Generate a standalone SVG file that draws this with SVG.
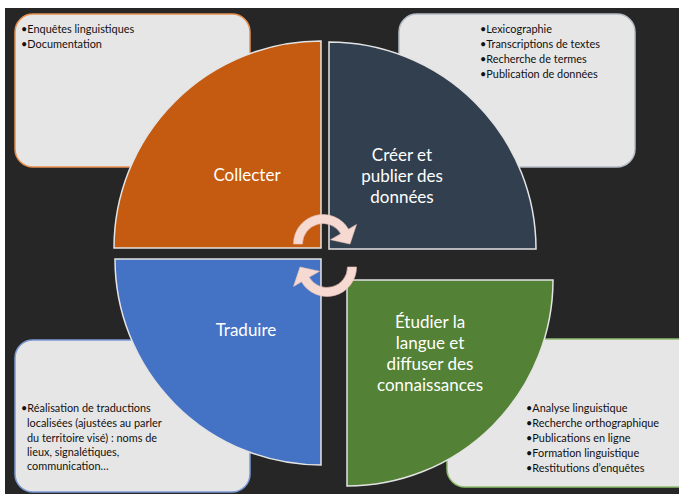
<svg xmlns="http://www.w3.org/2000/svg" width="679" height="494" viewBox="0 0 679 494">
  <style>
    .box { fill: #e7e6e6; stroke-width: 1.5; }
    .item { font-family: Lato, "Liberation Sans", sans-serif; font-size: 10.9px; fill: #111; }
    .quad { stroke: #e4e4e4; stroke-width: 1.5; }
    .label { font-family: Lato, "Liberation Sans", sans-serif; font-size: 17px; fill: #ffffff; text-anchor: middle; }
    .cycle { fill: #f6d9d0; stroke: #e8c3b8; stroke-width: 0.6; }
  </style>

  <!-- page and dark panel -->
  <rect x="0" y="0" width="679" height="494" fill="#ffffff"/>
  <rect x="5" y="8" width="674" height="486" fill="#262626"/>

  <!-- detail boxes (drawn first, the quadrants overlap them) -->
  <g id="box-collecter">
    <rect class="box" x="15" y="14" width="235" height="153" rx="18" stroke="#e9904f"/>
    <text class="item" x="21" y="33">•Enquêtes linguistiques</text>
    <text class="item" x="21" y="48">•Documentation</text>
  </g>
  <g id="box-creer">
    <rect class="box" x="399" y="14" width="236" height="153" rx="18" stroke="#b4bcc6"/>
    <text class="item" x="480" y="33">•Lexicographie</text>
    <text class="item" x="480" y="48">•Transcriptions de textes</text>
    <text class="item" x="480" y="63">•Recherche de termes</text>
    <text class="item" x="480" y="78">•Publication de données</text>
  </g>
  <g id="box-traduire">
    <rect class="box" x="15" y="340" width="235" height="152" rx="18" stroke="#7c9bd6"/>
    <text class="item" x="21" y="412">•Réalisation de traductions</text>
    <text class="item" x="27" y="427">localisées (ajustées au parler</text>
    <text class="item" x="27" y="442">du territoire visé) : noms de</text>
    <text class="item" x="27" y="456">lieux, signalétiques,</text>
    <text class="item" x="27" y="470">communication…</text>
  </g>
  <g id="box-etudier">
    <rect class="box" x="447" y="339" width="250" height="148" rx="18" stroke="#8fbf6e"/>
    <text class="item" x="526" y="412">•Analyse linguistique</text>
    <text class="item" x="526" y="427">•Recherche orthographique</text>
    <text class="item" x="526" y="442">•Publications en ligne</text>
    <text class="item" x="526" y="457">•Formation linguistique</text>
    <text class="item" x="526" y="472">•Restitutions d’enquêtes</text>
  </g>

  <!-- quadrants -->
  <g id="quad-collecter">
    <path class="quad" d="M321,248 H114 A207,207 0 0 1 321,41 Z" fill="#c55a11"/>
    <text class="label" x="247" y="181">Collecter</text>
  </g>
  <g id="quad-creer">
    <path class="quad" d="M329,249 V42 A207,207 0 0 1 536,249 Z" fill="#323f4f"/>
    <text class="label" x="402" y="161">Créer et</text>
    <text class="label" x="402" y="182">publier des</text>
    <text class="label" x="402" y="203">données</text>
  </g>
  <g id="quad-traduire">
    <path class="quad" d="M321,259 V465 A206,206 0 0 1 115,259 Z" fill="#4472c4"/>
    <text class="label" x="246" y="336">Traduire</text>
  </g>
  <g id="quad-etudier">
    <path class="quad" d="M347,280 H553 A206,206 0 0 1 347,486 Z" fill="#538135"/>
    <text class="label" x="430" y="328">Étudier la</text>
    <text class="label" x="430" y="349">langue et</text>
    <text class="label" x="430" y="370">diffuser des</text>
    <text class="label" x="430" y="391">connaissances</text>
  </g>

  <!-- cycle arrows -->
  <g id="connectors">
    <g id="cycle-top">
      <path class="cycle" d="M293.5,244 A29.5,29.5 0 0 1 348.5,229.2 L356.5,224.5 L350,244 L330.5,239.7 L340.8,233.8 A20.5,20.5 0 0 0 302.5,244 Z"/>
    </g>
    <g id="cycle-bottom" transform="rotate(180 325 255.5)">
      <path class="cycle" d="M293.5,244 A29.5,29.5 0 0 1 348.5,229.2 L356.5,224.5 L350,244 L330.5,239.7 L340.8,233.8 A20.5,20.5 0 0 0 302.5,244 Z"/>
    </g>
  </g>
</svg>
